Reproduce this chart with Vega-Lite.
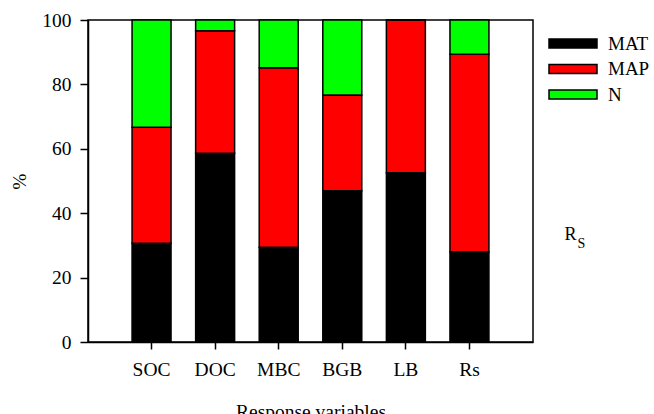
{
  "$schema": "https://vega.github.io/schema/vega-lite/v6.json",
  "autosize": {"type": "none"},
  "padding": {"left": 88, "top": 20, "right": 121, "bottom": 72},
  "width": 445,
  "height": 322,
  "background": "white",
  "config": {
    "font": "Liberation Serif",
    "view": {"stroke": "black", "strokeWidth": 1.5},
    "axis": {"domainColor": "black", "domainWidth": 1.5, "tickColor": "black", "tickWidth": 1.5, "labelColor": "black", "titleColor": "black", "grid": false, "labelFont": "Liberation Serif", "titleFont": "Liberation Serif", "titleFontWeight": "normal"},
    "legend": {"labelFont": "Liberation Serif", "labelFontSize": 19, "labelColor": "black"}
  },
  "datasets": {
    "bars": [
      {"variable": "SOC", "factor": "MAT", "rank": 1, "value": 30.7},
      {"variable": "SOC", "factor": "MAP", "rank": 2, "value": 36.0},
      {"variable": "SOC", "factor": "N", "rank": 3, "value": 33.3},
      {"variable": "DOC", "factor": "MAT", "rank": 1, "value": 58.6},
      {"variable": "DOC", "factor": "MAP", "rank": 2, "value": 38.1},
      {"variable": "DOC", "factor": "N", "rank": 3, "value": 3.3},
      {"variable": "MBC", "factor": "MAT", "rank": 1, "value": 29.4},
      {"variable": "MBC", "factor": "MAP", "rank": 2, "value": 55.8},
      {"variable": "MBC", "factor": "N", "rank": 3, "value": 14.8},
      {"variable": "BGB", "factor": "MAT", "rank": 1, "value": 47.0},
      {"variable": "BGB", "factor": "MAP", "rank": 2, "value": 29.7},
      {"variable": "BGB", "factor": "N", "rank": 3, "value": 23.3},
      {"variable": "LB", "factor": "MAT", "rank": 1, "value": 52.6},
      {"variable": "LB", "factor": "MAP", "rank": 2, "value": 47.4},
      {"variable": "LB", "factor": "N", "rank": 3, "value": 0},
      {"variable": "Rs", "factor": "MAT", "rank": 1, "value": 28.0},
      {"variable": "Rs", "factor": "MAP", "rank": 2, "value": 61.4},
      {"variable": "Rs", "factor": "N", "rank": 3, "value": 10.6}
    ],
    "note": [{"main": "R", "sub": "S"}]
  },
  "layer": [
    {
      "data": {"name": "bars"},
      "mark": {"type": "bar", "stroke": "black", "strokeWidth": 1.5},
      "encoding": {
        "x": {
          "field": "variable", "type": "nominal",
          "sort": ["SOC", "DOC", "MBC", "BGB", "LB", "Rs"],
          "scale": {"paddingInner": 0.387, "paddingOuter": 0.693},
          "axis": {"title": "Response variables", "labelAngle": 0, "tickSize": 7, "labelPadding": 11, "labelFontSize": 19.5, "titleFontSize": 19.5, "titlePadding": 24}
        },
        "y": {
          "field": "value", "type": "quantitative", "stack": "zero",
          "scale": {"domain": [0, 100], "nice": false},
          "axis": {"title": "%", "values": [0, 20, 40, 60, 80, 100], "tickSize": 8, "labelPadding": 9, "labelFontSize": 19.5, "titleFontSize": 19.5, "titlePadding": 12}
        },
        "color": {
          "field": "factor", "type": "nominal",
          "scale": {"domain": ["MAT", "MAP", "N"], "range": ["#000000", "#ff0000", "#00ff00"]},
          "legend": {
            "title": null, "orient": "none", "legendX": 475.5, "legendY": 14, "padding": 0,
            "symbolType": "M-4,-0.75H4V0.75H-4Z", "symbolSize": 144,
            "symbolStrokeColor": "black", "symbolStrokeWidth": 1.5, "symbolOpacity": 1,
            "labelFontSize": 19, "labelOffset": 25.5, "rowPadding": 5.5, "labelColor": "black"
          }
        },
        "order": {"field": "rank", "type": "quantitative"}
      }
    },
    {
      "data": {"name": "note"},
      "mark": {"type": "text", "fontSize": 18, "dx": 101, "align": "center", "baseline": "middle", "color": "black"},
      "encoding": {
        "x": {"datum": "Rs", "type": "nominal"},
        "y": {"datum": 33.2, "type": "quantitative"},
        "text": {"field": "main"}
      }
    },
    {
      "data": {"name": "note"},
      "mark": {"type": "text", "fontSize": 14, "dx": 112, "align": "center", "baseline": "middle", "color": "black"},
      "encoding": {
        "x": {"datum": "Rs", "type": "nominal"},
        "y": {"datum": 30.5, "type": "quantitative"},
        "text": {"field": "sub"}
      }
    }
  ]
}
